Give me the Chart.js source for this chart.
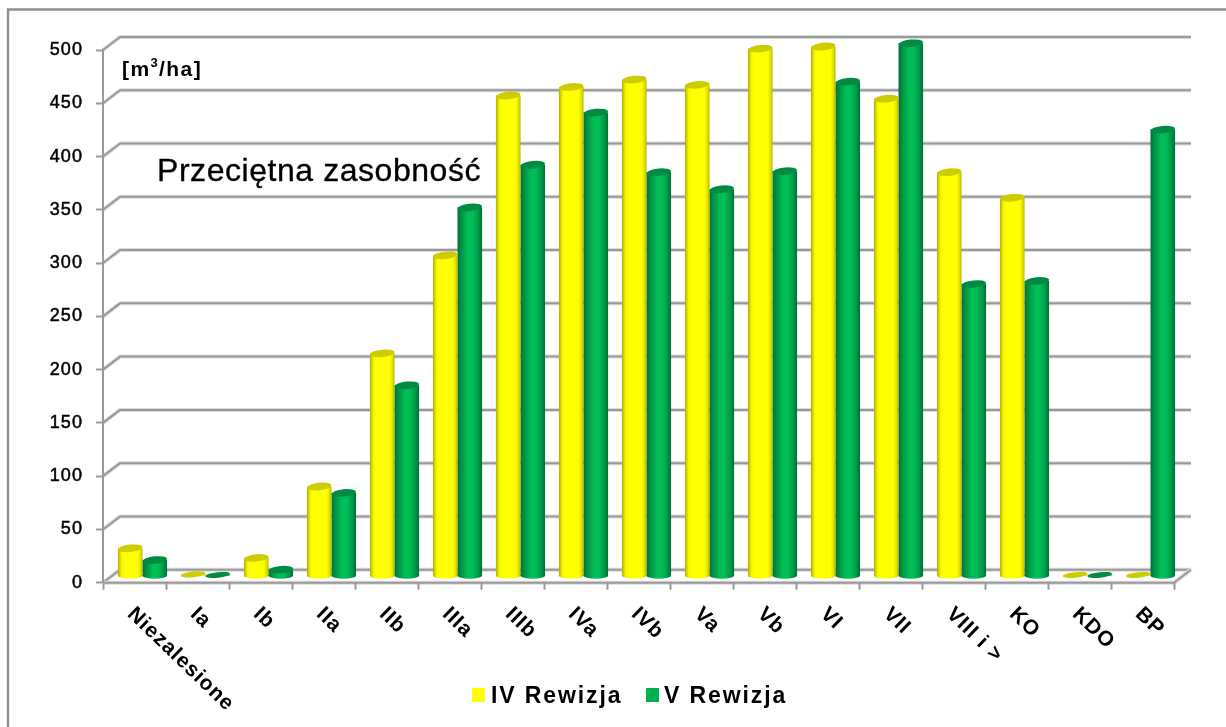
<!DOCTYPE html>
<html><head><meta charset="utf-8">
<style>html,body{margin:0;padding:0;background:#fff;overflow:hidden}canvas{display:block}</style>
<script src="https://cdn.jsdelivr.net/npm/chart.js@4"></script>
</head><body>
<canvas id="c" width="1226" height="727"></canvas>
<script>
const categories=["Niezalesione","Ia","Ib","IIa","IIb","IIIa","IIIb","IVa","IVb","Va","Vb","VI","VII","VIII i >","KO","KDO","BP"];
const seriesIV=[26,1.5,17,84,209,301,451,459,466,461,495,497,448,379,355,1,1];
const seriesV=[15,1,6,78,179,346,386,435,379,363,380,464,500,274,277,1,419];
const seriesNames=["IV Rewizja","V Rewizja"];
const yMax=500,yStep=50;
const unitLabel=["[m","3","/ha]"];
const noteLabel="Przeciętna zasobność";

const FONT='"Liberation Sans", Arial, sans-serif';
const GRID='#999999',SOFT='#dcdcdc';
const DX=8,DY=-6.7,BX=17,BY=-13;
const PAL=[
 {stops:[[0,'#adad00'],[.14,'#f4f400'],[.24,'#ffff00'],[.8,'#ffff00'],[.92,'#e0e000'],[1,'#b4b400']],top:'#cccc00',key:'#ffff00'},
 {stops:[[0,'#00733a'],[.2,'#009a48'],[.42,'#00bd56'],[.62,'#00bd56'],[.84,'#009a48'],[1,'#007038']],top:'#008a42',key:'#00b050'}
];
const CAT=0.78;
function mkGrad(ctx,l,w,p){
  const g=ctx.createLinearGradient(l,0,l+w,0);
  p.stops.forEach(s=>g.addColorStop(s[0],s[1]));
  return g;
}
function grad(c){
  const chart=c.chart,x=chart.scales.x,p=PAL[c.datasetIndex];
  if(!x||c.dataIndex===undefined)return p.key;
  const w=x.width/categories.length*CAT/2,
        l=x.getPixelForValue(c.dataIndex)+(c.datasetIndex-1)*w;
  if(!isFinite(l)||!isFinite(w)||w<=0)return p.key;
  return mkGrad(chart.ctx,l,w,p);
}
function softLine(ctx,pts){
  ctx.save();ctx.lineJoin='round';
  ctx.beginPath();pts.forEach((q,i)=>i?ctx.lineTo(q[0],q[1]):ctx.moveTo(q[0],q[1]));
  ctx.strokeStyle=SOFT;ctx.lineWidth=4;ctx.stroke();
  ctx.strokeStyle=GRID;ctx.lineWidth=2;ctx.stroke();
  ctx.restore();
}
function heavyText(ctx,t,x,y,sw){
  ctx.fillText(t,x,y);
  if(sw){ctx.lineWidth=sw;ctx.strokeStyle=ctx.fillStyle;ctx.strokeText(t,x,y);}
}
const cyl={
  id:'cyl',
  beforeDraw(chart){
    const ctx=chart.ctx;
    ctx.letterSpacing='1.1px';
    ctx.save();
    ctx.strokeStyle='#8f8f8f';ctx.lineWidth=2.4;
    ctx.beginPath();ctx.moveTo(8,727);ctx.lineTo(8,9.5);ctx.lineTo(1226,9.5);ctx.stroke();
    const {left,right}=chart.chartArea,y=chart.scales.y;
    y.ticks.forEach(t=>{
      const p=y.getPixelForValue(t.value);
      softLine(ctx,[[left,p],[left+BX,p+BY],[right+BX,p+BY]]);
    });
    const p0=y.getPixelForValue(0);
    softLine(ctx,[[left,p0],[right,p0],[right+BX,p0+BY]]);
    ctx.restore();
  },
  beforeDatasetDraw(chart){chart.ctx.save();chart.ctx.translate(DX,DY);},
  afterDatasetDraw(chart){chart.ctx.restore();},
  afterDatasetsDraw(chart){
    const ctx=chart.ctx;
    ctx.save();ctx.translate(DX,DY);
    [0,1].forEach(di=>{
      const meta=chart.getDatasetMeta(di),p=PAL[di];
      meta.data.forEach(el=>{
        const rx=el.width/2,tilt=-0.1,tall=el.base-el.y>3,ry=tall?3.7:2.8;
        if(tall){
          ctx.fillStyle=mkGrad(ctx,el.x-rx,el.width,p);
          ctx.beginPath();ctx.ellipse(el.x,el.base,rx,ry*.85,0,0,Math.PI*2);ctx.fill();
        }
        ctx.fillStyle=p.top;ctx.beginPath();ctx.ellipse(el.x,el.y,rx,ry,tilt,0,Math.PI*2);ctx.fill();
      });
    });
    ctx.restore();

    ctx.save();
    ctx.fillStyle='#000';ctx.textBaseline='alphabetic';ctx.textAlign='left';
    ctx.letterSpacing='0.55px';
    ctx.font='32px '+FONT;heavyText(ctx,noteLabel,157,181,0.35);
    ctx.letterSpacing='1.4px';
    ctx.font='bold 21px '+FONT;ctx.fillText(unitLabel[0],122,76);
    let ux=122+ctx.measureText(unitLabel[0]).width;
    ctx.font='bold 13px '+FONT;ctx.fillText(unitLabel[1],ux,67);
    ux+=ctx.measureText(unitLabel[1]).width;
    ctx.font='bold 21px '+FONT;ctx.fillText(unitLabel[2],ux,76);

    // rotated category labels, anchored on the library's own x scale
    const xs=chart.scales.x;
    ctx.font='bold 21px '+FONT;ctx.letterSpacing='1px';ctx.textBaseline='middle';
    categories.forEach((lab,i)=>{
      ctx.save();
      ctx.translate(xs.getPixelForValue(i)-4,611);
      ctx.rotate(44*Math.PI/180);
      ctx.fillText(lab,0,0);
      ctx.restore();
    });

    // legend
    ctx.textBaseline='alphabetic';ctx.font='bold 23px '+FONT;ctx.letterSpacing='1.9px';
    [[472,491],[646,664]].forEach((q,i)=>{
      ctx.fillStyle=PAL[i].key;ctx.fillRect(q[0],688,13,14);
      ctx.fillStyle='#000';ctx.fillText(seriesNames[i],q[1],703);
    });
    ctx.restore();
  }
};
new Chart(document.getElementById('c'),{
  type:'bar',
  plugins:[cyl],
  data:{labels:categories,datasets:[
    {label:seriesNames[0],data:seriesIV,backgroundColor:grad,borderWidth:0,clip:false,categoryPercentage:CAT,barPercentage:1},
    {label:seriesNames[1],data:seriesV,backgroundColor:grad,borderWidth:0,clip:false,categoryPercentage:CAT,barPercentage:1}
  ]},
  options:{
    responsive:false,animation:false,
    layout:{padding:{left:0,top:50,right:52,bottom:0}},
    plugins:{title:{display:false},tooltip:{enabled:false},legend:{display:false}},
    scales:{
      x:{
        grid:{drawOnChartArea:false,drawTicks:true,tickLength:7,tickWidth:2,tickColor:GRID,offset:true},
        border:{display:false},
        afterFit(s){s.height=144.3;s.paddingLeft=0;s.paddingRight=0;},
        ticks:{autoSkip:false,display:false}
      },
      y:{
        min:0,max:yMax,
        afterFit(s){s.width=103;},
        grid:{drawOnChartArea:false,drawTicks:true,tickLength:7,tickWidth:2,tickColor:GRID},
        border:{display:true,color:GRID,width:2},
        ticks:{stepSize:yStep,padding:13,color:'#000',textStrokeColor:'#000',textStrokeWidth:0.5,font:{family:FONT,size:18}}
      }
    }
  }
});
</script>
</body></html>
